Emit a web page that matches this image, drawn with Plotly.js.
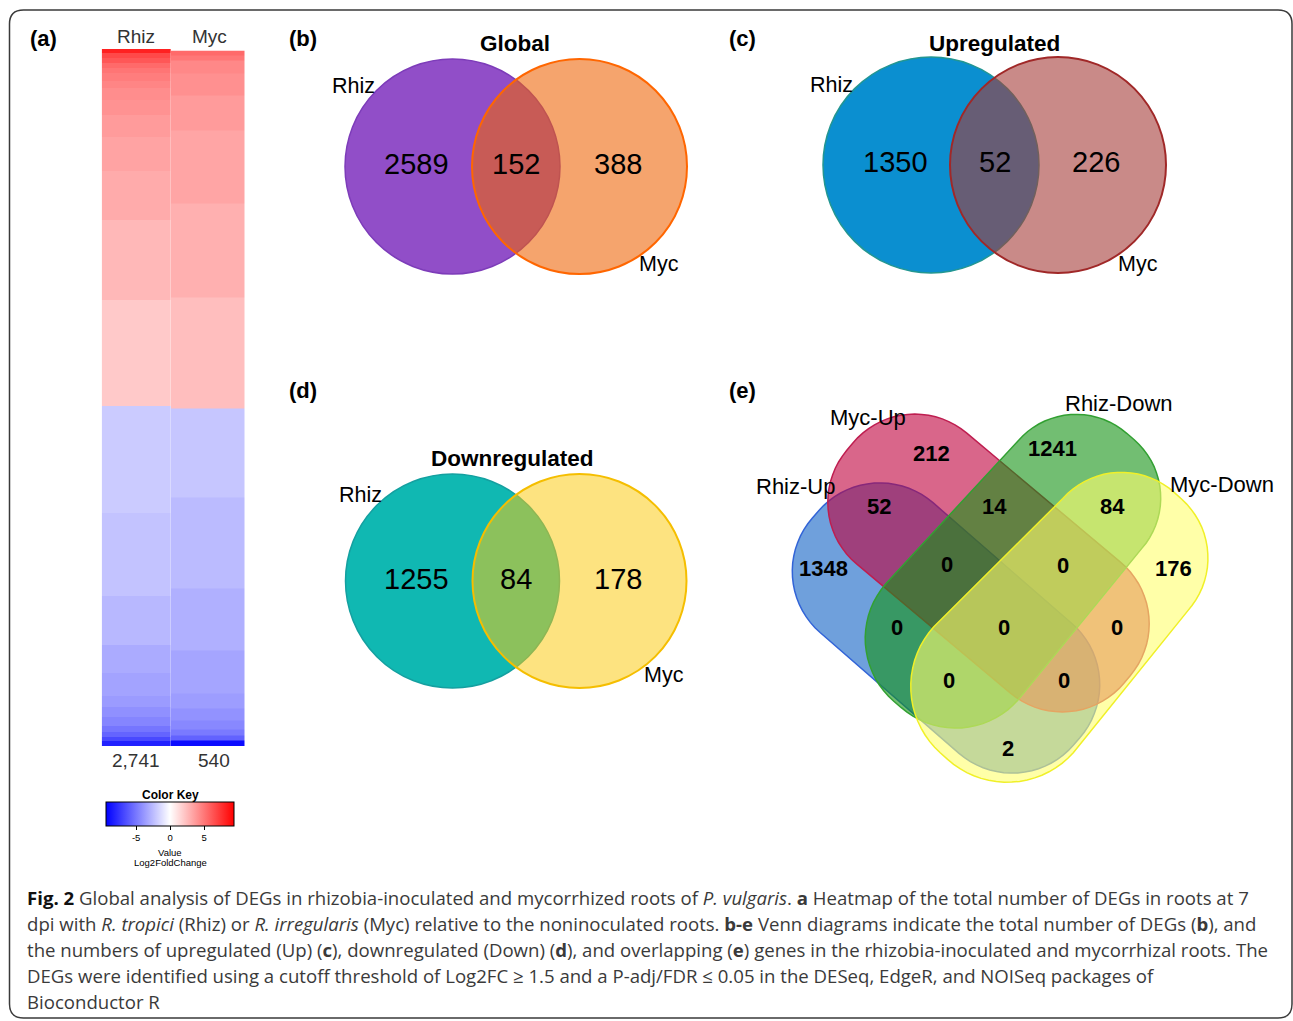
<!DOCTYPE html>
<html><head><meta charset="utf-8">
<script src="https://cdn.plot.ly/plotly-3.0.1.min.js"></script>
<style>html,body{margin:0;padding:0;background:#fff}#chart{width:1293px;height:1021px}</style>
</head><body><div id="chart"></div>
<script>
// ---------------- DATA ----------------
const heatColumns = ['Rhiz', 'Myc'];
// genes per colour band (top -> bottom) and their Log2FoldChange
const rhizBandGenes  = [16, 20, 20, 20, 20, 28, 31, 47, 59, 87, 130, 193, 318, 413,
                        421, 330, 189, 110, 94, 43, 39, 35, 24, 20, 16, 18];
const rhizBandLog2FC = [8.2, 6.7, 6.2, 5.5, 5.1, 4.8, 4.5, 4.2, 4.0, 3.7, 3.4, 3.1, 2.6, 2.0,
                        -1.9, -2.2, -2.6, -3.1, -3.4, -3.7, -4.1, -4.5, -5.1, -5.7, -6.7, -8.2];
const mycBandGenes   = [4, 4, 10, 17, 27, 57, 73, 86,
                        69, 71, 48, 33, 12, 9, 7, 5, 4, 4];
const mycBandLog2FC  = [5.5, 5.0, 4.4, 4.1, 3.7, 3.3, 2.9, 2.4,
                        -2.1, -2.5, -2.9, -3.3, -3.6, -4.0, -4.4, -4.9, -5.8, -9.0];
const colorKeyTicks = [-5, 0, 5];
const log2fcLimit = 9.4;

const venn2Sets   = ['Rhiz', 'Myc'];
const venn2Titles = ['Global', 'Upregulated', 'Downregulated'];
const globalCounts = [2589, 152, 388];   // Rhiz only, both, Myc only
const upCounts     = [1350, 52, 226];
const downCounts   = [1255, 84, 178];

const venn4Sets    = ['Rhiz-Up', 'Myc-Up', 'Rhiz-Down', 'Myc-Down'];
const venn4Regions = ['A', 'B', 'C', 'D', 'AB', 'BC', 'CD', 'ABC', 'BCD', 'AC', 'ABCD', 'BD', 'ACD', 'ABD', 'AD'];
const venn4Counts  = [1348, 212, 1241, 176, 52, 14, 84, 0, 0, 0, 0, 0, 0, 0, 2];

const captionLines = [
  '<b><span style="color:#111">Fig. 2</span></b> Global analysis of DEGs in rhizobia-inoculated and mycorrhized roots of <i>P. vulgaris</i>. <b>a</b> Heatmap of the total number of DEGs in roots at 7',
  'dpi with <i>R. tropici</i> (Rhiz) or <i>R. irregularis</i> (Myc) relative to the noninoculated roots. <b>b-e</b> Venn diagrams indicate the total number of DEGs (<b>b</b>), and',
  'the numbers of upregulated (Up) (<b>c</b>), downregulated (Down) (<b>d</b>), and overlapping (<b>e</b>) genes in the rhizobia-inoculated and mycorrhizal roots. The',
  'DEGs were identified using a cutoff threshold of Log2FC ≥ 1.5 and a P-adj/FDR ≤ 0.05 in the DESeq, EdgeR, and NOISeq packages of',
  'Bioconductor R'
];

// ---------------- LAYOUT HELPERS ----------------
const W = 1293, H = 1021;
const ARIAL = 'Liberation Sans, Arial, sans-serif';
const edges = arr => arr.reduce((a, v) => { a.push(a[a.length - 1] + v); return a; }, [0]);
const sum = arr => arr.reduce((a, b) => a + b, 0);
const px = x => x / W, py = y => 1 - y / H;

const colorscale = [[0, 'rgb(0,0,255)'], [0.5, 'rgb(255,255,255)'], [1, 'rgb(255,0,0)']];

const annotations = [];
function ann(text, x, y, size, opt = {}) {
  annotations.push(Object.assign({
    text, x, y, xref: 'x', yref: 'y', showarrow: false,
    xanchor: 'center', yanchor: 'middle',
    font: { family: ARIAL, size, color: '#000' }
  }, opt));
}
const shapes = [];

// figure frame
(function () {
  const x0 = 9.5, y0 = 10, x1 = 1292, y1 = 1018, r = 14;
  shapes.push({ type: 'path', xref: 'x', yref: 'y', layer: 'above',
    path: `M${x0 + r},${y0} L${x1 - r},${y0} Q${x1},${y0} ${x1},${y0 + r} L${x1},${y1 - r} Q${x1},${y1} ${x1 - r},${y1} L${x0 + r},${y1} Q${x0},${y1} ${x0},${y1 - r} L${x0},${y0 + r} Q${x0},${y0} ${x0 + r},${y0} Z`,
    line: { color: '#3a3a3a', width: 1.5 } });
})();

// panel letters
[['(a)', 43, 38], ['(b)', 303, 38], ['(c)', 742, 38], ['(d)', 303, 390], ['(e)', 742, 390]]
  .forEach(([t, x, y]) => ann('<b>' + t + '</b>', x, y, 22));

// ---------------- (a) HEATMAP ----------------
const rhizTotal = sum(rhizBandGenes), mycTotal = sum(mycBandGenes);
const heatGeom = { x0: 101.7, xm: 171, x1: 244.5, bottom: 746, topRhiz: 49, topMyc: 50.5 };
const greyFont = s => ({ font: { family: ARIAL, size: s, color: '#333' } });
ann(heatColumns[0], (heatGeom.x0 + heatGeom.xm) / 2, 36, 19, greyFont(19));
ann(heatColumns[1], (heatGeom.xm + heatGeom.x1) / 2 + 2, 36, 19, greyFont(19));
ann(rhizTotal.toLocaleString('en-US'), (heatGeom.x0 + heatGeom.xm) / 2, 760, 19, greyFont(19));
ann(mycTotal.toLocaleString('en-US'), (heatGeom.xm + heatGeom.x1) / 2 + 6, 760, 19, greyFont(19));

// colour key text
ann('<b>Color Key</b>', 170, 795, 12);
ann('Value', 170, 852, 9.5);
ann('Log2FoldChange', 170, 862.5, 9.5);

// ---------------- (b)-(d) two-set Venns ----------------
const venn2Panels = [
  { counts: globalCounts, c1: [452.5, 166.5], c2: [579.5, 166.5], r: 107.5, title: [515, 43], lab1: [353, 86], lab2: [659, 264], ny: 164,
    f1: 'rgb(145,78,200)', l1: 'rgb(125,60,185)', f2: 'rgba(238,101,6,0.59)', l2: 'rgb(255,102,0)' },
  { counts: upCounts, c1: [931, 165], c2: [1058, 165], r: 108, title: [994, 43], lab1: [831, 85], lab2: [1138, 264], ny: 162,
    f1: 'rgb(11,143,208)', l1: 'rgb(35,150,145)', f2: 'rgba(165,60,57,0.6)', l2: 'rgb(160,40,40)' },
  { counts: downCounts, c1: [452.5, 581], c2: [579.5, 581], r: 107, title: [512, 458], lab1: [360, 495], lab2: [664, 675], ny: 579,
    f1: 'rgb(16,184,178)', l1: 'rgb(20,160,160)', f2: 'rgba(251,202,15,0.53)', l2: 'rgb(245,190,0)' }
];
venn2Panels.forEach((p, i) => {
  shapes.push({ type: 'circle', xref: 'x', yref: 'y', x0: p.c1[0] - p.r, x1: p.c1[0] + p.r, y0: p.c1[1] - p.r, y1: p.c1[1] + p.r,
    fillcolor: p.f1, line: { color: p.l1, width: 1.5 } });
  shapes.push({ type: 'circle', xref: 'x', yref: 'y', x0: p.c2[0] - p.r, x1: p.c2[0] + p.r, y0: p.c2[1] - p.r, y1: p.c2[1] + p.r,
    fillcolor: p.f2, line: { color: p.l2, width: 2 } });
  ann('<b>' + venn2Titles[i] + '</b>', p.title[0], p.title[1], 22.5);
  ann(venn2Sets[0], p.lab1[0], p.lab1[1], 21.5);
  ann(venn2Sets[1], p.lab2[0], p.lab2[1], 21.5);
  ann(String(p.counts[0]), p.c1[0] - 36, p.ny, 29);
  ann(String(p.counts[1]), (p.c1[0] + p.c2[0]) / 2, p.ny, 29);
  ann(String(p.counts[2]), p.c2[0] + 38, p.ny, 29);
});

// ---------------- (e) four-set Venn ----------------
// rounded (slightly tapered) capsule: half-width hwP at the +u end, hwN at the -u end
function capsulePath(cx, cy, L, hwP, hwN, angDeg) {
  const a = angDeg * Math.PI / 180, ca = Math.cos(a), sa = Math.sin(a);
  const hl = L / 2, rP = hwP - 5, rN = hwN - 5;
  const corners = [[hl - rP, hwP - rP, 0, rP], [-hl + rN, hwN - rN, 90, rN], [-hl + rN, -hwN + rN, 180, rN], [hl - rP, -hwP + rP, 270, rP]];
  const pts = [];
  corners.forEach(([u0, v0, s, r]) => {
    for (let t = s; t <= s + 90; t += 5) {
      const tr = t * Math.PI / 180;
      const u = u0 + r * Math.cos(tr), v = v0 + r * Math.sin(tr);
      pts.push([cx + u * ca - v * sa, cy + u * sa + v * ca]);
    }
  });
  return 'M' + pts.map(p => p[0].toFixed(1) + ',' + p[1].toFixed(1)).join(' L') + ' Z';
}
const venn4Geom = [
  { cx: 946,    cy: 628,   L: 346, hwP: 86, hwN: 86, ang: 41,  fill: 'rgba(15,97,197,0.6)',   line: 'rgb(50,100,215)' },
  { cx: 988.5,  cy: 563,   L: 362, hwP: 85.5, hwN: 85.5, ang: 40,  fill: 'rgba(192,0,60,0.6)', line: 'rgb(190,30,80)' },
  { cx: 1014,   cy: 570.5, L: 355, hwP: 82, hwN: 88, ang: -49, fill: 'rgba(20,147,20,0.6)',   line: 'rgb(50,160,50)' },
  { cx: 1061,   cy: 626,   L: 350, hwP: 84, hwN: 94, ang: -48, fill: 'rgba(255,255,110,0.6)', line: 'rgb(240,240,40)' }
];
venn4Geom.forEach(g => shapes.push({ type: 'path', xref: 'x', yref: 'y',
  path: capsulePath(g.cx, g.cy, g.L, g.hwP, g.hwN, g.ang), fillcolor: g.fill, line: { color: g.line, width: 1.5 } }));
const venn4SetLabelPos = [[795, 486], [868, 417], [1119, 403], [1222, 484]];
venn4Sets.forEach((s, i) => ann(s, venn4SetLabelPos[i][0], venn4SetLabelPos[i][1], 22));
const venn4RegionPos = { A: [823, 568], B: [931, 453], C: [1052, 448], D: [1173, 568], AB: [879, 506], BC: [994, 506],
  CD: [1112, 506], ABC: [947, 564], BCD: [1063, 565], AC: [897, 627], ABCD: [1004, 627], BD: [1117, 627],
  ACD: [949, 680], ABD: [1064, 680], AD: [1008, 748] };
venn4Regions.forEach((r, i) => ann('<b>' + venn4Counts[i] + '</b>', venn4RegionPos[r][0], venn4RegionPos[r][1], 22));

// ---------------- caption ----------------
captionLines.forEach((t, i) => ann(t, 25, 897 + 26 * i, 18.6, {
  xanchor: 'left', align: 'left', font: { family: 'Open Sans, sans-serif', size: 18.6, color: '#3a3a3a' } }));

// ---------------- TRACES ----------------
const traces = [
  { type: 'scatter', x: [], y: [], xaxis: 'x', yaxis: 'y', showlegend: false, hoverinfo: 'skip' },
  { type: 'heatmap', name: heatColumns[0], x: [0, 1], y: edges(rhizBandGenes), z: rhizBandLog2FC.map(v => [v]),
    xaxis: 'x2', yaxis: 'y2', colorscale, zmin: -log2fcLimit, zmax: log2fcLimit, showscale: true,
    colorbar: { orientation: 'h', x: px(170.2), xanchor: 'center', y: py(802), yanchor: 'top',
      lenmode: 'pixels', len: 128, thicknessmode: 'pixels', thickness: 24, xpad: 0, ypad: 0,
      outlinecolor: '#000', outlinewidth: 1, ticks: 'outside', ticklen: 4, tickwidth: 1, tickcolor: '#000',
      tickvals: colorKeyTicks, ticktext: colorKeyTicks.map(String),
      tickfont: { family: ARIAL, size: 9.5, color: '#000' } } },
  { type: 'heatmap', name: heatColumns[1], x: [0, 1], y: edges(mycBandGenes), z: mycBandLog2FC.map(v => [v]),
    xaxis: 'x3', yaxis: 'y3', colorscale, zmin: -log2fcLimit, zmax: log2fcLimit, showscale: false }
];

const hidden = { visible: false, fixedrange: true, showgrid: false, zeroline: false };
const layout = {
  width: W, height: H, margin: { l: 0, r: 0, t: 0, b: 0, pad: 0 },
  paper_bgcolor: '#fff', plot_bgcolor: 'rgba(0,0,0,0)', showlegend: false,
  xaxis: Object.assign({ domain: [0, 1], range: [0, W] }, hidden),
  yaxis: Object.assign({ domain: [0, 1], range: [H, 0] }, hidden),
  xaxis2: Object.assign({ domain: [px(heatGeom.x0), px(heatGeom.xm)], range: [0, 1], anchor: 'y2' }, hidden),
  yaxis2: Object.assign({ domain: [py(heatGeom.bottom), py(heatGeom.topRhiz)], range: [rhizTotal, 0], anchor: 'x2' }, hidden),
  xaxis3: Object.assign({ domain: [px(heatGeom.xm), px(heatGeom.x1)], range: [0, 1], anchor: 'y3' }, hidden),
  yaxis3: Object.assign({ domain: [py(heatGeom.bottom), py(heatGeom.topMyc)], range: [mycTotal, 0], anchor: 'x3' }, hidden),
  shapes, annotations
};
Plotly.newPlot('chart', traces, layout, { displayModeBar: false, staticPlot: true });
</script></body></html>
